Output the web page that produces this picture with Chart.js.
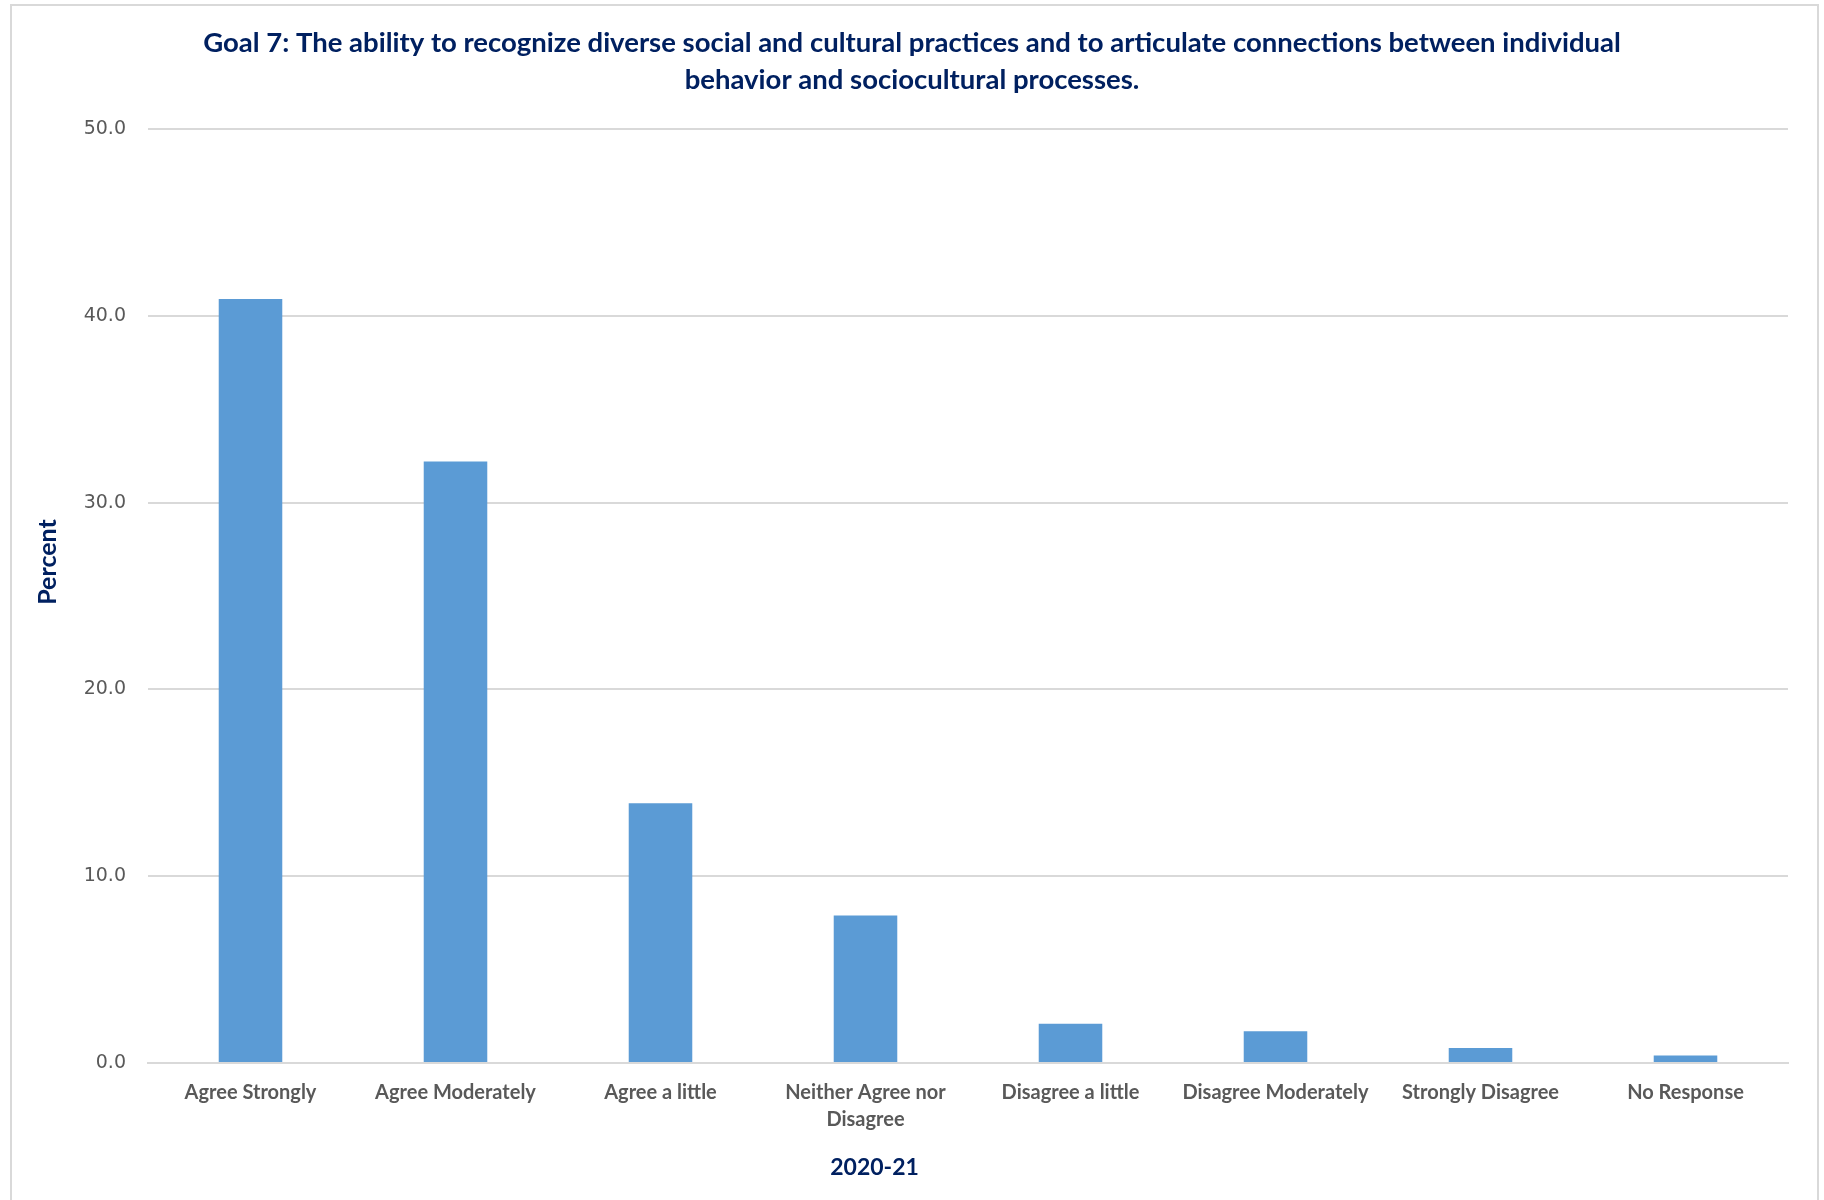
<!DOCTYPE html>
<html>
<head>
<meta charset="utf-8">
<script src="https://cdn.jsdelivr.net/npm/chart.js@4.4.1/dist/chart.umd.min.js"></script>
<style>
  html, body { margin: 0; padding: 0; background: #fff; }
  #wrap { position: relative; width: 1824px; height: 1200px; overflow: hidden; }
  #frame { position: absolute; left: 10px; top: 4px; width: 1805px; height: 1300px;
           border: 2px solid #d9d9d9; pointer-events: none; }
</style>
</head>
<body>
<div id="wrap">
  <canvas id="goalChart" width="1824" height="1200"></canvas>
  <div id="frame"></div>
</div>
<script>
var categories = ['Agree Strongly', 'Agree Moderately', 'Agree a little',
    ['Neither Agree nor', 'Disagree'], 'Disagree a little', 'Disagree Moderately',
    'Strongly Disagree', 'No Response'];
var percents = [40.9, 32.2, 13.9, 7.9, 2.1, 1.7, 0.8, 0.4];
var yTicks = [0, 10, 20, 30, 40, 50];
var titleLines = ['Goal 7: The ability to recognize diverse social and cultural practices and to articulate connections between individual',
    'behavior and sociocultural processes.'];
var xTitle = '2020-21';
var yTitle = 'Percent';

var navy = '#002060';

// title is centred on the whole canvas and the axis titles sit off-centre
// in the original, so draw those texts ourselves
var textPlugin = {
    id: 'chartTexts',
    afterDraw: function(chart) {
        var a = chart.chartArea;
        var c = chart.ctx;
        c.save();
        c.fillStyle = navy;
        c.textAlign = 'center';
        c.textBaseline = 'middle';
        c.font = 'bold 27.5px Lato';
        titleLines.forEach(function(line, i) {
            c.fillText(line, chart.width / 2, 43 + i * 37);
        });
        c.font = 'bold 23px Lato';
        c.fillText(xTitle, a.left + (a.right - a.left) * 0.443, 1168);
        c.translate(48, a.top + (a.bottom - a.top) * 0.4636);
        c.rotate(-Math.PI / 2);
        c.font = 'bold 25px Lato';
        c.fillText(yTitle, 0, 0);
        c.restore();
    }
};

document.addEventListener('DOMContentLoaded', function() {
    var ctx = document.getElementById('goalChart').getContext('2d');
    new Chart(ctx, {
        type: 'bar',
        data: {
            labels: categories,
            datasets: [{
                data: percents,
                backgroundColor: '#5b9bd5',
                borderWidth: 0,
                barPercentage: 0.31,
                categoryPercentage: 1
            }]
        },
        options: {
            responsive: false,
            animation: false,
            layout: { padding: { left: 0, right: 36, top: 129, bottom: 0 } },
            plugins: {
                legend: { display: false },
                tooltip: { enabled: false },
                title: { display: false }
            },
            scales: {
                x: {
                    grid: { display: false },
                    border: { color: '#d9d9d9', width: 2 },
                    ticks: {
                        color: '#595959',
                        font: { family: 'Lato', size: 20, weight: 'bold', lineHeight: 1.35 },
                        padding: 8,
                        maxRotation: 0,
                        autoSkip: false
                    },
                    afterFit: function(scale) { scale.height = 137; }
                },
                y: {
                    min: 0,
                    max: 50,
                    afterBuildTicks: function(scale) {
                        scale.ticks = yTicks.map(function(v) { return { value: v }; });
                    },
                    grid: { color: '#d9d9d9', lineWidth: 2, drawTicks: false },
                    border: { display: false },
                    ticks: {
                        color: '#595959',
                        font: { family: 'DejaVu Sans', size: 19 },
                        padding: 22,
                        callback: function(v) { return Number(v).toFixed(1); }
                    },
                    afterFit: function(scale) { scale.width = 148; }
                }
            }
        },
        plugins: [textPlugin]
    });
});
</script>
</body>
</html>
